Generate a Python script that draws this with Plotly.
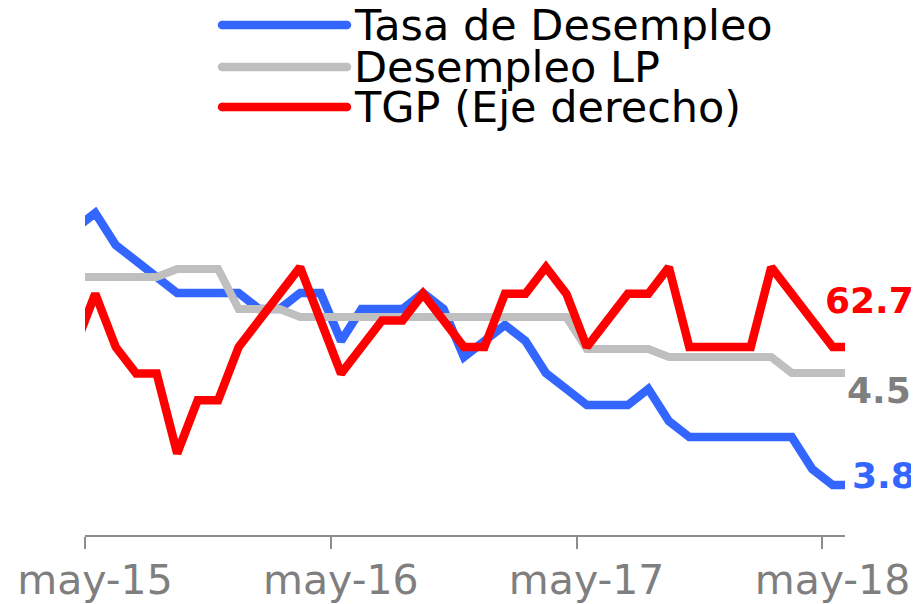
import plotly.graph_objects as go

# Monthly data (Apr-15 .. Jun-18)
months = ["abr-15", "may-15", "jun-15", "jul-15", "ago-15", "sep-15", "oct-15", "nov-15", "dic-15",
          "ene-16", "feb-16", "mar-16", "abr-16", "may-16", "jun-16", "jul-16", "ago-16", "sep-16",
          "oct-16", "nov-16", "dic-16",
          "ene-17", "feb-17", "mar-17", "abr-17", "may-17", "jun-17", "jul-17", "ago-17", "sep-17",
          "oct-17", "nov-17", "dic-17",
          "ene-18", "feb-18", "mar-18", "abr-18", "may-18", "jun-18"]

tasa_desempleo = [5.4, 5.5, 5.3, 5.2, 5.1, 5.0, 5.0, 5.0, 5.0,
                  4.9, 4.9, 5.0, 5.0, 4.7, 4.9, 4.9, 4.9, 5.0, 4.9, 4.6, 4.7,
                  4.8, 4.7, 4.5, 4.4, 4.3, 4.3, 4.3, 4.4, 4.2, 4.1, 4.1, 4.1,
                  4.1, 4.1, 4.1, 3.9, 3.8, 3.8]

desempleo_lp = [5.1, 5.1, 5.1, 5.1, 5.1, 5.15, 5.15, 5.15, 4.9,
                4.9, 4.9, 4.85, 4.85, 4.85, 4.85, 4.85, 4.85, 4.85, 4.85, 4.85, 4.85,
                4.85, 4.85, 4.85, 4.85, 4.65, 4.65, 4.65, 4.65, 4.6, 4.6, 4.6, 4.6,
                4.6, 4.6, 4.5, 4.5, 4.5, 4.5]

tgp = [62.7, 62.9, 62.7, 62.6, 62.6, 62.3, 62.5, 62.5, 62.7,
       62.8, 62.9, 63.0, 62.8, 62.6, 62.7, 62.8, 62.8, 62.9, 62.8, 62.7, 62.7,
       62.9, 62.9, 63.0, 62.9, 62.7, 62.8, 62.9, 62.9, 63.0, 62.7, 62.7, 62.7,
       62.7, 63.0, 62.9, 62.8, 62.7, 62.7]

tick_labels = ["may-15", "may-16", "may-17", "may-18"]
series_names = ["Tasa de Desempleo", "Desempleo LP", "TGP (Eje derecho)"]

BLUE = "#3366FF"
GRAY = "#BFBFBF"
GRAY_TXT = "#7F7F7F"
RED = "#FF0000"
AXIS = "#8C8C8C"

# month index: may-15 = 0
x = [i - 1 for i in range(len(months))]
last = len(months) - 2  # may-18 (latest value labelled)

fig = go.Figure()
fig.add_trace(go.Scatter(x=x, y=tasa_desempleo, mode="lines", name=series_names[0],
                         line=dict(color=BLUE, width=8.5), hoverinfo="skip"))
fig.add_trace(go.Scatter(x=x, y=desempleo_lp, mode="lines", name=series_names[1],
                         line=dict(color=GRAY, width=8), hoverinfo="skip"))
fig.add_trace(go.Scatter(x=x, y=tgp, mode="lines", name=series_names[2], yaxis="y2",
                         line=dict(color=RED, width=8.5), hoverinfo="skip"))

# page has an 8px body margin: work in page pixels, convert to figure pixels
OFF = 8
W, H = 919, 604
plot_left, plot_right = 85 - OFF, 845 - OFF
plot_top, plot_bottom = 150 - OFF, 535 - OFF
ml, mr = plot_left, W - plot_right
mt, mb = plot_top, H - plot_bottom
ph = plot_bottom - plot_top
pw = plot_right - plot_left

def paper_y(page_y):
    return (plot_bottom - (page_y - OFF)) / ph

def paper_x(page_x):
    return ((page_x - OFF) - plot_left) / pw

# end-of-series value labels
fig.add_annotation(x=x[last], y=tgp[last], yref="y2", text=f"<b>{tgp[last]:.1f}</b>",
                   showarrow=False, xanchor="left", yanchor="middle", xshift=-10, yshift=47,
                   font=dict(family="DejaVu Sans", size=36, color=RED))
fig.add_annotation(x=x[last], y=desempleo_lp[last], yref="y", text=f"<b>{desempleo_lp[last]:.1f}</b>",
                   showarrow=False, xanchor="left", yanchor="middle", xshift=12, yshift=-17,
                   font=dict(family="DejaVu Sans", size=36, color=GRAY_TXT))
fig.add_annotation(x=x[last], y=tasa_desempleo[last], yref="y", text=f"<b>{tasa_desempleo[last]:.1f}</b>",
                   showarrow=False, xanchor="left", yanchor="middle", xshift=17, yshift=10,
                   font=dict(family="DejaVu Sans", size=36, color=BLUE))

# custom legend (long line samples with rounded ends)
leg_rows = [25, 67, 107]
leg_colors = [BLUE, GRAY, RED]
LW = 8.5
for name, col, py in zip(series_names, leg_colors, leg_rows):
    yp = paper_y(py)
    xa, xb = paper_x(222), paper_x(347)
    fig.add_shape(type="line", xref="paper", yref="paper", x0=xa, x1=xb,
                  y0=yp, y1=yp, line=dict(color=col, width=LW))
    for xe in (xa, xb):
        fig.add_shape(type="circle", xref="paper", yref="paper", xsizemode="pixel", ysizemode="pixel",
                      xanchor=xe, yanchor=yp, x0=-LW / 2, x1=LW / 2, y0=-LW / 2, y1=LW / 2,
                      fillcolor=col, line=dict(width=0))
    fig.add_annotation(xref="paper", yref="paper", x=paper_x(352), y=yp, text=name, showarrow=False,
                       xanchor="left", yanchor="middle",
                       font=dict(family="DejaVu Sans", size=43, color="#000000"))

# axis scales (px per unit)
left_lo = 3.8 - (535 - 485) / 160.0
left_hi = left_lo + ph / 160.0
right_lo = 62.7 - (535 - 347) / 266.0
right_hi = right_lo + ph / 266.0

fig.update_layout(
    width=W, height=H,
    margin=dict(l=ml, r=mr, t=mt, b=mb, autoexpand=False),
    paper_bgcolor="white", plot_bgcolor="white",
    showlegend=False,
    xaxis=dict(range=[-0.5, 36.6], tickmode="array",
               tickvals=[-0.5, 11.5, 23.5, 35.5], ticktext=tick_labels,
               ticks="outside", ticklen=12, tickwidth=1.5, tickcolor=AXIS,
               showline=True, linecolor=AXIS, linewidth=1.5, automargin=False,
               showgrid=False, zeroline=False, ticklabelshift=10, ticklabelstandoff=-4,
               tickfont=dict(family="DejaVu Sans", size=41, color=GRAY_TXT)),
    yaxis=dict(range=[left_lo, left_hi], visible=False, showgrid=False, zeroline=False),
    yaxis2=dict(range=[right_lo, right_hi], overlaying="y", side="right", visible=False,
                showgrid=False, zeroline=False),
)

fig.write_html("out.html")
